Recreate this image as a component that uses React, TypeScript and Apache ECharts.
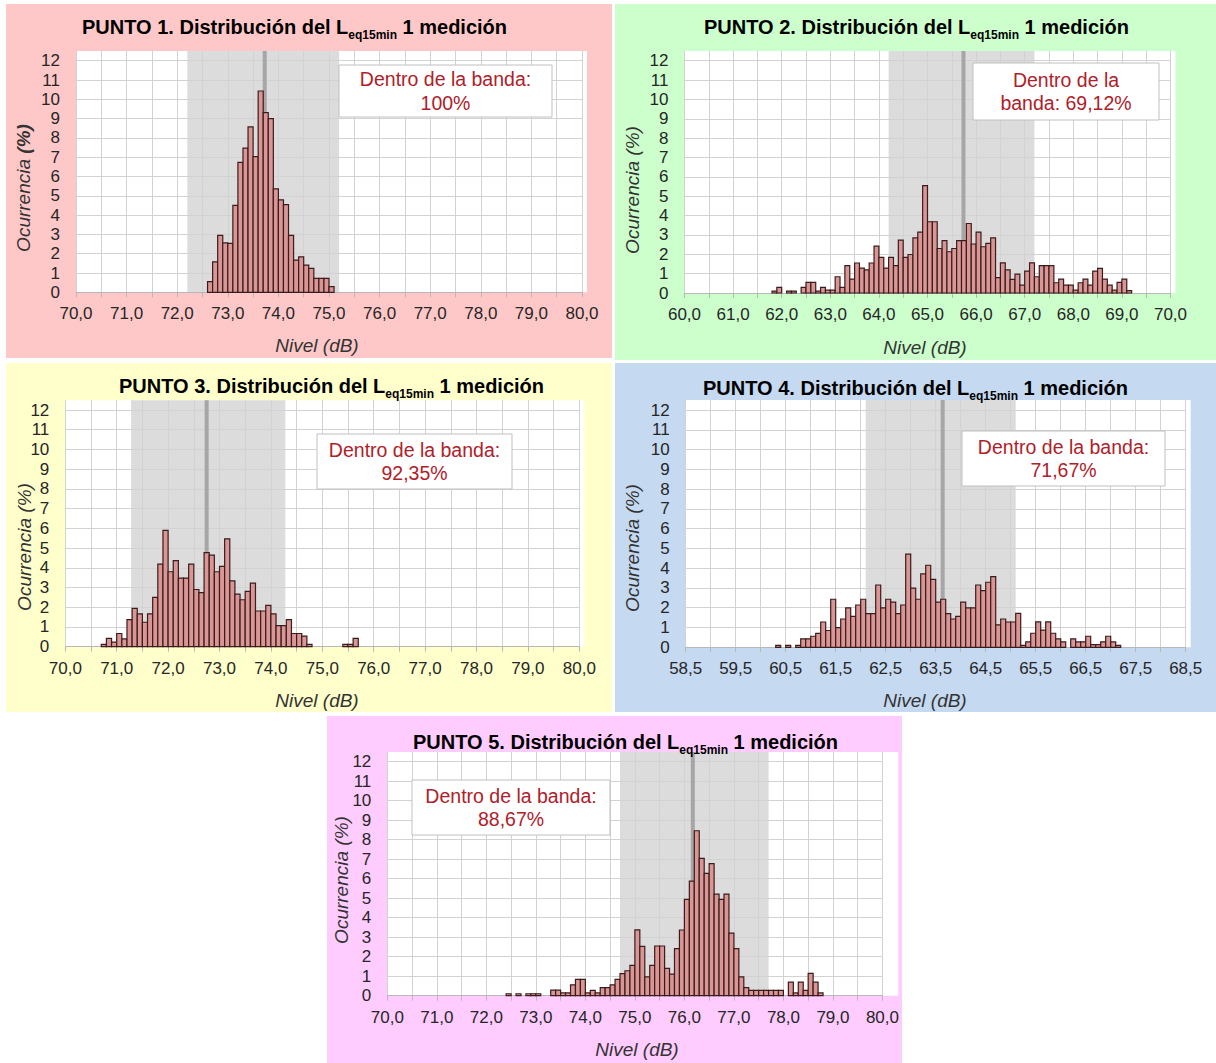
import React, { useEffect, useRef } from "react";
import * as echarts from "echarts";

const FONT = "'Liberation Sans', Arial, Helvetica, sans-serif";
const BIN = 0.1;
const Y_TICK_MAX = 12;
const Y_AXIS_TOP = 12.5;
const RED = "#b0202a";

// ---- PUNTO 1 ----
const p1Start = 72.6;
const p1Occurrence = [0.55, 1.58, 2.95, 2.56, 2.53, 4.5, 6.73, 7.47, 8.57, 7.03, 10.43, 9.31, 9.0, 5.36, 4.79, 4.54, 2.95, 1.67, 1.84, 1.41, 1.24, 0.72, 0.72, 0.72, 0.29];
const p1Band = [72.2, 75.2];
const p1Mean = 73.73;

// ---- PUNTO 2 ----
const p2Start = 61.8;
const p2Occurrence = [0.1, 0.29, 0, 0.1, 0.1, 0, 0.29, 0.55, 0.55, 0.1, 0.29, 0.15, 0.15, 0.84, 0.29, 1.41, 0.72, 1.55, 1.29, 1.19, 1.55, 2.42, 1.84, 1.29, 1.84, 1.41, 2.73, 1.84, 1.99, 2.85, 3.14, 5.55, 3.68, 3.68, 2.3, 2.71, 2.13, 2.3, 2.71, 2.71, 3.59, 2.53, 3.14, 2.39, 2.56, 2.85, 0.79, 1.56, 1.19, 0.7, 0.98, 0.41, 1.13, 1.56, 0.84, 1.41, 1.41, 1.41, 0.53, 0.72, 0.41, 0.41, 0.15, 0.53, 0.72, 0.41, 1.13, 1.27, 0.72, 0.41, 0.15, 0.55, 0.72, 0.12];
const p2Band = [64.2, 67.2];
const p2Mean = 65.74;

// ---- PUNTO 3 ----
const p3Start = 70.7;
const p3Occurrence = [0.12, 0.42, 0.23, 0.67, 0.4, 1.37, 1.94, 1.66, 1.24, 1.66, 2.5, 4.19, 5.9, 3.8, 4.36, 3.48, 3.48, 4.19, 2.9, 2.74, 4.77, 4.64, 3.8, 4.07, 5.47, 3.34, 2.67, 2.38, 2.8, 3.22, 1.81, 1.81, 2.1, 1.66, 1.07, 1.07, 1.37, 0.67, 0.67, 0.54, 0.12, 0, 0, 0, 0, 0, 0, 0.12, 0.12, 0.42];
const p3Band = [71.28, 74.28];
const p3Mean = 72.75;

// ---- PUNTO 4 ----
const p4Start = 60.3;
const p4Occurrence = [0.1, 0, 0.1, 0, 0.1, 0.43, 0.43, 0.56, 0.7, 1.28, 0.85, 2.43, 0.99, 1.43, 1.99, 1.56, 2.14, 2.43, 1.7, 1.7, 3.15, 1.99, 2.43, 2.28, 1.7, 2.14, 4.71, 2.99, 2.43, 3.71, 4.15, 3.43, 2.28, 2.43, 1.7, 1.43, 1.56, 2.28, 1.99, 1.99, 3.15, 2.87, 3.29, 3.57, 1.13, 1.43, 1.28, 1.28, 1.72, 0.1, 0.27, 0.71, 1.29, 0.87, 1.29, 0.71, 0.43, 0.27, 0, 0.43, 0.27, 0.27, 0.56, 0.14, 0.14, 0.27, 0.56, 0.27, 0.1];
const p4Band = [62.1, 65.1];
const p4Mean = 63.64;

// ---- PUNTO 5 ----
const p5Start = 72.4;
const p5Occurrence = [0.1, 0, 0.1, 0, 0.1, 0.1, 0.1, 0, 0, 0.29, 0.29, 0.14, 0.14, 0.56, 0.84, 0.84, 0.14, 0.27, 0.14, 0.41, 0.41, 0.56, 0.84, 1.13, 1.28, 1.56, 3.38, 2.53, 0.97, 1.56, 2.55, 2.55, 1.4, 1.11, 2.41, 3.37, 4.94, 5.88, 8.46, 7.04, 6.27, 6.77, 5.21, 4.94, 5.21, 3.21, 2.41, 0.97, 0.41, 0.27, 0.27, 0.27, 0.27, 0.27, 0.27, 0.27, 0, 0.7, 0.14, 0.7, 0.27, 1.15, 0.7, 0.14];
const p5Band = [74.7, 77.7];
const p5Mean = 76.17;

const inBandTexts = [
  "Dentro de la banda:\n100%",
  "Dentro de la\nbanda: 69,12%",
  "Dentro de la banda:\n92,35%",
  "Dentro de la banda:\n71,67%",
  "Dentro de la banda:\n88,67%",
];

type PanelCfg = {
  n: number;
  rect: [number, number, number, number];
  bg: string;
  xMin: number;
  xMax: number;
  x0: number;
  x1: number;
  y12: number;
  yBot: number;
  title: [number, number];
  xName: [number, number];
  yName: [number, number];
  boldPct: boolean;
  box: [number, number, number, number];
  boxText: string;
  start: number;
  values: number[];
  band: number[];
  mean: number;
};

const panels: PanelCfg[] = [
  {
    n: 1, rect: [6, 4, 606, 354], bg: "#FFC8C8",
    xMin: 70, xMax: 80, x0: 76, x1: 582, y12: 60.7, yBot: 292.3,
    title: [82, 27], xName: [317, 345], yName: [23, 188], boldPct: true,
    box: [339, 65, 213, 52], boxText: inBandTexts[0],
    start: p1Start, values: p1Occurrence, band: p1Band, mean: p1Mean,
  },
  {
    n: 2, rect: [615, 4, 601, 356], bg: "#CCFFCC",
    xMin: 60, xMax: 70, x0: 684.5, x1: 1170.5, y12: 60.7, yBot: 293,
    title: [704, 27], xName: [925, 347], yName: [632, 190], boldPct: false,
    box: [973, 63, 186, 57], boxText: inBandTexts[1],
    start: p2Start, values: p2Occurrence, band: p2Band, mean: p2Mean,
  },
  {
    n: 3, rect: [6, 363, 606, 349], bg: "#FFFFCC",
    xMin: 70, xMax: 80, x0: 65.3, x1: 579.3, y12: 410, yBot: 646.7,
    title: [119, 386], xName: [317, 700], yName: [24, 547], boldPct: false,
    box: [317, 434, 195, 55], boxText: inBandTexts[2],
    start: p3Start, values: p3Occurrence, band: p3Band, mean: p3Mean,
  },
  {
    n: 4, rect: [615, 363, 601, 349], bg: "#C5D9F1",
    xMin: 58.5, xMax: 68.5, x0: 685.7, x1: 1185.7, y12: 410, yBot: 647.3,
    title: [703, 388], xName: [925, 700], yName: [632, 548], boldPct: false,
    box: [962, 431, 203, 55], boxText: inBandTexts[3],
    start: p4Start, values: p4Occurrence, band: p4Band, mean: p4Mean,
  },
  {
    n: 5, rect: [327, 716, 575, 347], bg: "#FFCCFF",
    xMin: 70, xMax: 80, x0: 387.3, x1: 893.3, y12: 761.7, yBot: 995.7,
    title: [413, 742], xName: [637, 1049], yName: [341, 880], boldPct: false,
    box: [412, 780, 198, 55], boxText: inBandTexts[4],
    start: p5Start, values: p5Occurrence, band: p5Band, mean: p5Mean,
  },
];

function PanelChart({ cfg }: { cfg: PanelCfg }) {
  const ref = useRef<HTMLDivElement>(null);
  const [ox, oy, w, h] = cfg.rect;

  useEffect(() => {
    const el = ref.current;
    if (!el) return;
    const chart = echarts.init(el, null, { renderer: "svg" });
    const unit = (cfg.yBot - cfg.y12) / Y_TICK_MAX;
    const gridLeft = cfg.x0 - ox;
    const gridTop = cfg.y12 - unit * (Y_AXIS_TOP - Y_TICK_MAX) - oy;
    const gridWidth = cfg.x1 - cfg.x0;
    const gridHeight = cfg.yBot - oy - gridTop;

    const barData = cfg.values
      .map((v, i) => [Math.round((cfg.start + i * BIN) * 100) / 100, v])
      .filter((d) => d[1] > 0);

    const txt = (x: number, y: number, style: any, extra: any = {}) => ({
      type: "text",
      x: x - ox,
      y: y - oy,
      silent: true,
      z: 10,
      ...extra,
      style: {
        align: "center",
        verticalAlign: "middle",
        textAlign: "center",
        textVerticalAlign: "middle",
        ...style,
      },
    });

    const [bx, by, bw, bh] = cfg.box;

    const option: any = {
      animation: false,
      backgroundColor: cfg.bg,
      grid: { left: gridLeft, top: gridTop, width: gridWidth, height: gridHeight, containLabel: false },
      xAxis: {
        type: "value",
        min: cfg.xMin,
        max: cfg.xMax,
        interval: 0.5,
        axisLine: { show: true, onZero: false, lineStyle: { color: "#b8b8b8", width: 1 } },
        axisTick: { show: true, length: 5, lineStyle: { color: "#b8b8b8" } },
        axisLabel: {
          margin: 13,
          fontSize: 17,
          fontFamily: FONT,
          color: "#262626",
          showMinLabel: true,
          showMaxLabel: true,
          formatter: (v: number) =>
            Math.round((v - cfg.xMin) * 2) % 2 === 0 ? v.toFixed(1).replace(".", ",") : "",
        },
        splitLine: { show: true, lineStyle: { color: "#d2d2d2", width: 1 } },
      },
      yAxis: {
        type: "value",
        min: 0,
        max: Y_AXIS_TOP,
        interval: 1,
        axisLine: { show: false },
        axisTick: { show: false },
        axisLabel: {
          margin: 16,
          fontSize: 17,
          fontFamily: FONT,
          color: "#262626",
          showMaxLabel: false,
          formatter: (v: number) => (Number.isInteger(v) && v <= Y_TICK_MAX ? String(v) : ""),
        },
        splitLine: { show: true, showMaxLine: false, lineStyle: { color: "#d2d2d2", width: 1 } },
      },
      graphic: [
        {
          type: "rect",
          z: -10,
          silent: true,
          shape: { x: gridLeft, y: gridTop, width: gridWidth + 5, height: gridHeight },
          style: { fill: "#ffffff" },
        },
        txt(cfg.title[0], cfg.title[1], {
          align: "left",
          textAlign: "left",
          text: `{a|PUNTO ${cfg.n}. Distribución del L}{b|eq15min}{a| 1 medición}`,
          rich: {
            a: { fontFamily: FONT, fontSize: 20, fontWeight: "bold", fill: "#000", lineHeight: 28 },
            b: { fontFamily: FONT, fontSize: 12, fontWeight: "bold", fill: "#000", lineHeight: 12, verticalAlign: "bottom" },
          },
        }),
        txt(cfg.xName[0], cfg.xName[1], {
          text: "Nivel (dB)",
          fontFamily: FONT,
          fontSize: 19,
          fontStyle: "italic",
          fill: "#333333",
        }),
        txt(
          cfg.yName[0],
          cfg.yName[1],
          cfg.boldPct
            ? {
                text: "{i|Ocurrencia }{b|(%)}",
                rich: {
                  i: { fontFamily: FONT, fontSize: 19, fontStyle: "italic", fill: "#333333" },
                  b: { fontFamily: FONT, fontSize: 19, fontStyle: "italic", fontWeight: "bold", fill: "#333333" },
                },
              }
            : {
                text: "Ocurrencia (%)",
                fontFamily: FONT,
                fontSize: 19,
                fontStyle: "italic",
                fill: "#333333",
              },
          { rotation: Math.PI / 2 }
        ),
        {
          type: "rect",
          z: 9,
          silent: true,
          shape: { x: bx - ox, y: by - oy, width: bw, height: bh },
          style: { fill: "#ffffff", stroke: "#c0c0c0", lineWidth: 1 },
        },
        txt(bx + bw / 2, by + bh / 2, {
          text: cfg.boxText,
          fontFamily: FONT,
          fontSize: 19.5,
          lineHeight: 23.5,
          fill: RED,
        }),
      ],
      series: [
        {
          type: "custom",
          z: -5,
          silent: true,
          clip: false,
          data: [[cfg.band[0], 0, cfg.band[1]]],
          renderItem: (_p: any, api: any) => {
            const a = api.coord([api.value(0), Y_AXIS_TOP]);
            const b = api.coord([api.value(2), 0]);
            return {
              type: "rect",
              shape: { x: a[0], y: a[1], width: b[0] - a[0], height: b[1] - a[1] },
              style: { fill: "#dcdcdc" },
            };
          },
        },
        {
          type: "custom",
          z: 1,
          silent: true,
          clip: false,
          data: [[cfg.mean, 0]],
          renderItem: (_p: any, api: any) => {
            const a = api.coord([api.value(0), Y_AXIS_TOP]);
            const b = api.coord([api.value(0), 0]);
            return {
              type: "line",
              shape: { x1: a[0], y1: a[1], x2: b[0], y2: b[1] },
              style: { stroke: "#a6a6a6", lineWidth: 4 },
            };
          },
        },
        {
          type: "custom",
          z: 3,
          silent: true,
          data: barData,
          renderItem: (_p: any, api: any) => {
            const x = api.value(0);
            const v = api.value(1);
            const a = api.coord([x, v]);
            const b = api.coord([x + BIN, 0]);
            return {
              type: "rect",
              shape: { x: a[0], y: a[1], width: b[0] - a[0], height: b[1] - a[1] },
              style: { fill: "#d99694", stroke: "#3a1c1c", lineWidth: 1.2 },
            };
          },
        },
      ],
    };
    chart.setOption(option);
    return () => chart.dispose();
  }, [cfg]);

  return (
    <div
      ref={ref}
      style={{
        position: "absolute",
        left: ox,
        top: oy,
        width: w,
        height: h,
        outline: "1px solid #c4c4c4",
        outlineOffset: -1,
      }}
    />
  );
}

export default function App() {
  useEffect(() => {
    document.body.style.margin = "0";
  }, []);
  return (
    <div style={{ position: "relative", width: 1216, height: 1063, background: "#ffffff", overflow: "hidden" }}>
      {panels.map((p) => (
        <PanelChart key={p.n} cfg={p} />
      ))}
    </div>
  );
}
